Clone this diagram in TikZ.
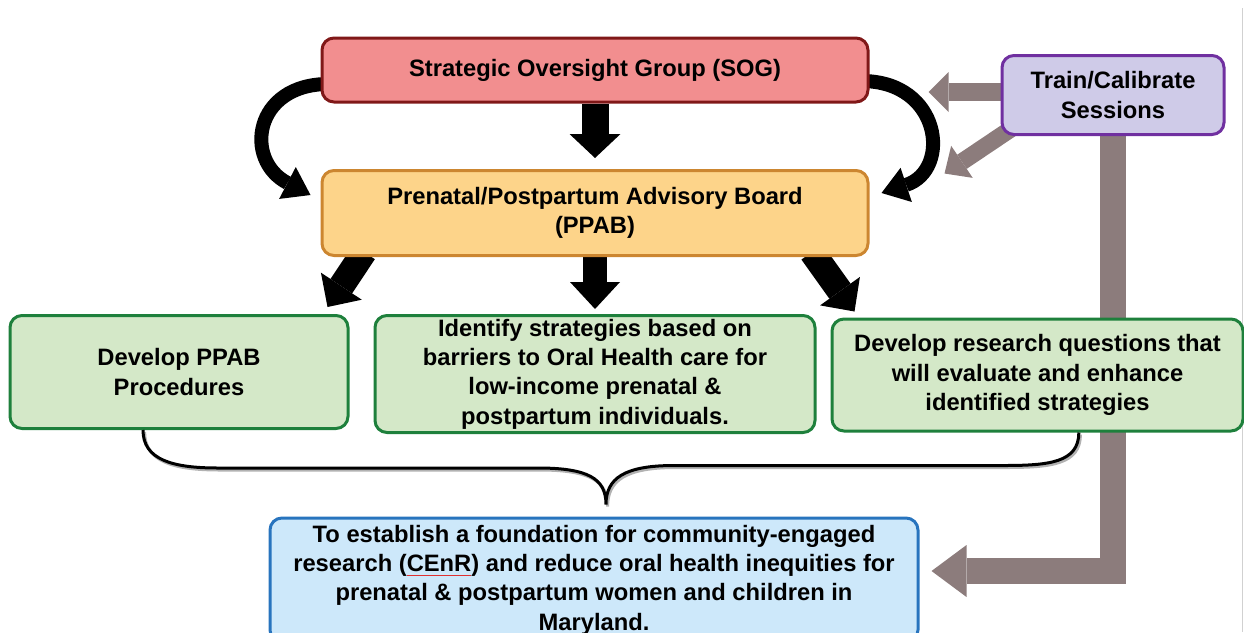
\documentclass[tikz,border=0pt]{standalone}
\usepackage{fontspec}
\setmainfont{Liberation Sans}
\usetikzlibrary{arrows.meta,backgrounds}

\definecolor{sogfill}{HTML}{F28E8F}
\definecolor{sogline}{HTML}{801818}
\definecolor{ppabfill}{HTML}{FDD48A}
\definecolor{ppabline}{HTML}{CC8630}
\definecolor{trainfill}{HTML}{CFCBE8}
\definecolor{trainline}{HTML}{7030A0}
\definecolor{greenfill}{HTML}{D4E8C8}
\definecolor{greenline}{HTML}{1E803C}
\definecolor{bluefill}{HTML}{CDE8FA}
\definecolor{blueline}{HTML}{2874BE}
\definecolor{feedgray}{HTML}{8C7C7C}
\definecolor{spellred}{HTML}{E03030}

% thin red mark under a word
\newcommand\spellmark[1]{\setbox0\hbox{#1}\rlap{\textcolor{spellred}{\rule[-3.5pt]{\wd0}{0.5pt}}}\box0}

\begin{document}
\begin{tikzpicture}[x=0.75pt,y=-0.75pt,
  box/.style={draw, rounded corners=9pt, line width=2.25pt, inner sep=0pt,
    align=center, font=\fontsize{17.8}{22}\selectfont\bfseries},
  fatarrow/.style n args={3}{draw=black, line width=#1,
    -{Triangle[width=#2,length=#3,line width=0pt]}},
  bendarrow/.style={draw=black, line width=10.5pt,
    -{Triangle[width=27pt,length=19.5pt,line width=0pt]}},
  feedarrow/.style n args={3}{draw=feedgray, line width=#1,
    -{Triangle[width=#2,length=#3,line width=0pt]}},
  bracepath/.style={draw=black, line width=2.25pt,
    preaction={draw=black!30, line width=2.25pt,
      transform canvas={shift={(1.2pt,-1.5pt)}}}}]

\useasboundingbox (0,0) rectangle (1244,632);
\clip (0,0) rectangle (1244,632);

% boxes
\node[box, fill=sogfill, draw=sogline, minimum width=409.5pt, minimum height=48pt]
  (sog) at (595,70) {Strategic Oversight Group (SOG)};
\node[box, fill=ppabfill, draw=ppabline, minimum width=409.5pt, minimum height=63.75pt]
  (ppab) at (595,213) {Prenatal/Postpartum Advisory Board\\(PPAB)};
\node[box, fill=trainfill, draw=trainline, minimum width=166.5pt, minimum height=59.25pt]
  (train) at (1113,95) {Train/Calibrate\\Sessions};
\node[box, fill=greenfill, draw=greenline, minimum width=253.5pt, minimum height=84.75pt]
  (g1) at (179,372) {Develop PPAB\\Procedures};
\node[box, fill=greenfill, draw=greenline, minimum width=330pt, minimum height=87.75pt]
  (g2) at (595,374) {Identify strategies based on\\barriers to Oral Health care for\\low-income prenatal \&\\postpartum individuals.};
\node[box, fill=greenfill, draw=greenline, minimum width=308.25pt, minimum height=84pt]
  (g3) at (1037.5,375) {Develop research questions that\\will evaluate and enhance\\identified strategies};
\node[box, fill=bluefill, draw=blueline, minimum width=486pt, minimum height=93pt]
  (blue) at (594,580) {To establish a foundation for community-engaged\\research (\spellmark{CEnR}) and reduce oral health inequities for\\prenatal \& postpartum women and children in\\Maryland.};

% free ends of the feedback arrows
\coordinate (feedA) at ([xshift=44.25pt,yshift=-16.5pt]sog.east);
\coordinate (feedB) at ([xshift=56.25pt,yshift=-3.4pt]ppab.north east);

% brace anchor points
\coordinate (bl) at ([xshift=-27pt]g1.south);
\coordinate (br) at ([xshift=31pt]g3.south);
\coordinate (bt) at ([xshift=9pt,yshift=9pt]blue.north);

\begin{pgfonlayer}{background}
  % page edge
  \draw[black!18, line width=0.75pt] (1242,8) -- (1242,632);

  % SOG to PPAB
  \draw[fatarrow={20.25pt}{38.25pt}{18pt}, shorten >=8.25pt] (sog.south) -- (ppab.north);
  \draw[bendarrow] ([xshift=6pt,yshift=-10.5pt]sog.west)
    .. controls +(-75,0) and +(-67,-35) .. ([xshift=-7.5pt,yshift=13.5pt]ppab.west);
  \draw[bendarrow] ([xshift=-6pt,yshift=-8.25pt]sog.east)
    .. controls +(80,0) and +(70,-23) .. ([xshift=9pt,yshift=15pt]ppab.east);

  % PPAB to the three activities
  \draw[fatarrow={19.5pt}{36.75pt}{18.75pt}]
    ([xshift=-173.25pt,yshift=3.75pt]ppab.south) -- ([xshift=-16.5pt,yshift=5.25pt]g1.north east);
  \draw[fatarrow={18pt}{37.5pt}{20.25pt}, shorten >=3.75pt] (ppab.south) -- (g2.north);
  \draw[fatarrow={19.5pt}{36.75pt}{18.75pt}]
    ([xshift=162.75pt,yshift=3.75pt]ppab.south) -- ([xshift=18pt,yshift=4.5pt]g3.north west);

  % Train/Calibrate feedback
  \draw[feedarrow={13.5pt}{30pt}{15pt}] ([xshift=6pt,yshift=2.25pt]train.west) -- (feedA);
  \draw[feedarrow={12.75pt}{29pt}{15.75pt}] ([xshift=17.25pt,yshift=-19.1pt]train.west) -- (feedB);
  \draw[feedarrow={19.5pt}{39pt}{26.25pt}] (train.south) |- ([xshift=9pt,yshift=6.75pt]blue.east);
\end{pgfonlayer}

% brace gathering the activities into the goal
\path[bracepath] (bl) .. controls +(0,30) and +(-45,0) .. ++(75,38) -- ++(320,0)
  .. controls +(50,0) and +(0,-26) .. (bt)
  .. controls +(0,-26) and +(-50,0) .. ++(68,-39) -- ++(330,0)
  .. controls +(45,0) and +(0,30) .. (br);

\end{tikzpicture}
\end{document}
